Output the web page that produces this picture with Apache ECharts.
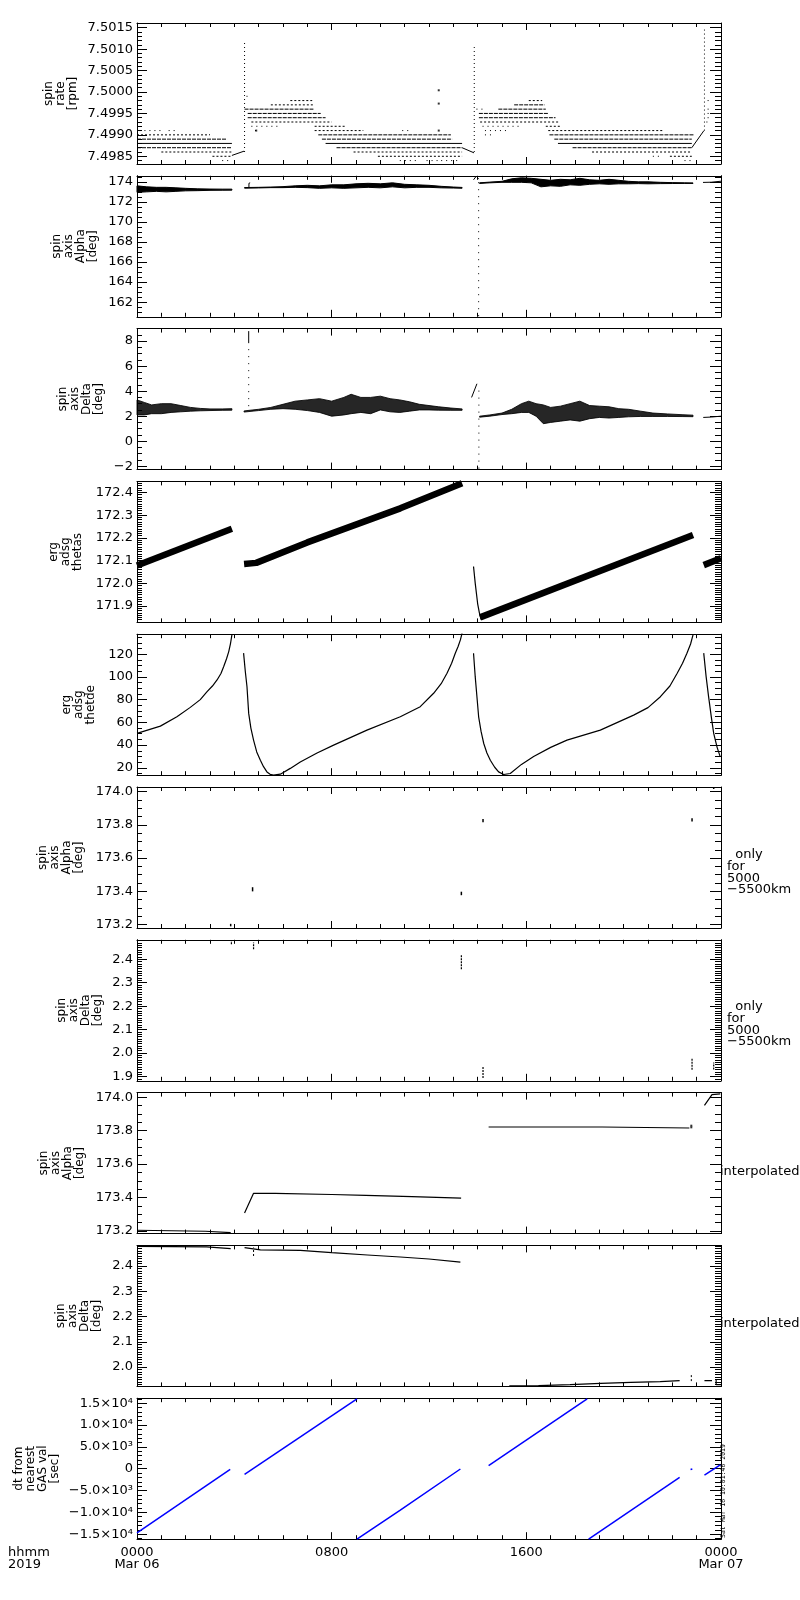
<!DOCTYPE html>
<html lang="en">
<head>
<meta charset="UTF-8">
<title>spin axis summary</title>
<script src="https://cdn.jsdelivr.net/npm/echarts@6/dist/echarts.min.js"></script>
<style>body{margin:0;background:#fff;}</style>
</head>
<body>
<div id="main" style="width:800px;height:1600px;"></div>
<script type="text/javascript">
// time is in hours from 0000 Mar 06
var hourTicks = [0, 8, 16, 24];
var hourLabels = ['0000\nMar 06', '0800', '1600', '0000\nMar 07'];

// y tick labels per panel
var rateTicks = [7.4985, 7.499, 7.4995, 7.5, 7.5005, 7.501, 7.5015];
var alphaTicks = [162, 164, 166, 168, 170, 172, 174];
var deltaTicks = [-2, 0, 2, 4, 6, 8];
var thetasTicks = [171.9, 172.0, 172.1, 172.2, 172.3, 172.4];
var thetdeTicks = [20, 40, 60, 80, 100, 120];
var alphaNarrowTicks = [173.2, 173.4, 173.6, 173.8, 174.0];
var deltaNarrowTicks = [1.9, 2.0, 2.1, 2.2, 2.3, 2.4];
var deltaInterpTicks = [2.0, 2.1, 2.2, 2.3, 2.4];
var dtTicks = [-15000, -10000, -5000, 0, 5000, 10000, 15000];
var dtTickLabels = ['\u22121.5\u00d710\u2074', '\u22121.0\u00d710\u2074', '\u22125.0\u00d710\u00b3', '0', '5.0\u00d710\u00b3', '1.0\u00d710\u2074', '1.5\u00d710\u2074'];

// panel 1: spin rate, quantised rows [t0, t1, rpm]
var rateSolid = [[0, 3.9, 7.4988], [7.75, 13.36, 7.4988], [17.3, 22.8, 7.4988]];
var rateDashed = [
  [0, 3.7, 7.4989], [0, 3.9, 7.4987],
  [4.42, 7.25, 7.4996], [4.55, 7.55, 7.4995], [4.55, 7.75, 7.4994],
  [7.45, 12.9, 7.4990], [7.6, 12.95, 7.4989], [8.2, 13.36, 7.4987],
  [15.5, 16.75, 7.4997], [14.85, 16.8, 7.4996], [14.05, 16.9, 7.4995], [14.05, 17.2, 7.4994],
  [16.95, 22.9, 7.4990], [17.15, 22.8, 7.4989], [17.9, 22.8, 7.4987]
];
var rateDotted = [
  [0, 3.0, 7.4990], [1.0, 3.9, 7.4986], [3.1, 3.9, 7.4985],
  [6.3, 7.2, 7.4998], [5.5, 7.25, 7.4997], [4.7, 8.0, 7.4993], [7.3, 8.6, 7.4992], [7.3, 9.3, 7.4991],
  [8.9, 13.36, 7.4986], [9.9, 13.36, 7.4985],
  [16.1, 16.65, 7.4998], [14.1, 17.35, 7.4993], [16.8, 17.4, 7.4992], [16.9, 21.6, 7.4991],
  [18.7, 22.8, 7.4986], [21.9, 22.8, 7.4985]
];
var rateSparse = [
  [0.1, 1.1, 7.4991], [1.3, 1.6, 7.4991], [3.5, 3.8, 7.4984],
  [4.5, 4.7, 7.4999], [4.7, 5.9, 7.4992], [4.85, 5.0, 7.4991],
  [10.9, 11.2, 7.4991], [10.8, 11.6, 7.4984], [11.9, 12.4, 7.4984], [12.5, 13.3, 7.4984],
  [13.95, 14.2, 7.4996], [14.2, 15.7, 7.4992], [14.3, 15.2, 7.4991], [14.3, 14.6, 7.4990],
  [21.2, 21.6, 7.4985], [22.5, 22.8, 7.4984],
  [23.45, 23.65, 7.4998], [23.45, 23.65, 7.4996], [23.45, 23.65, 7.4995], [23.45, 23.65, 7.4994], [23.4, 23.6, 7.4993]
];
var rateRamps = [
  [[3.9, 7.49852], [4.4, 7.49862]],
  [[13.36, 7.4987], [13.85, 7.49858]],
  [[22.8, 7.4987], [23.3, 7.4991]]
];
var rateSpikes = [[4.42, 7.4986, 7.5012], [13.86, 7.4986, 7.5011], [23.32, 7.4991, 7.50152]];
var rateOdd = [[12.4, 7.50004], [12.4, 7.49973], [12.4, 7.4991], [4.9, 7.4991]];

// panel 2: spin axis alpha, envelopes [t, low, high]
var alphaBand1 = [[0, 172.95, 173.6], [0.4, 173.0, 173.5], [0.8, 173.05, 173.45], [1.2, 173.0, 173.45], [1.6, 173.05, 173.4],
  [2.0, 173.1, 173.35], [2.5, 173.12, 173.3], [3.0, 173.15, 173.28], [3.5, 173.16, 173.27], [3.9, 173.17, 173.27]];
var alphaBand2 = [[4.42, 173.37, 173.43], [5.0, 173.39, 173.45], [5.5, 173.42, 173.48], [6.0, 173.42, 173.52], [6.5, 173.45, 173.6],
  [7.0, 173.42, 173.65], [7.5, 173.35, 173.6], [8.0, 173.4, 173.7], [8.5, 173.35, 173.7], [9.0, 173.4, 173.8],
  [9.5, 173.45, 173.85], [10.0, 173.4, 173.8], [10.5, 173.5, 173.9], [11.0, 173.4, 173.75], [11.5, 173.45, 173.7],
  [12.0, 173.45, 173.65], [12.5, 173.4, 173.55], [13.0, 173.38, 173.48], [13.36, 173.36, 173.44]];
var alphaBand3 = [[14.08, 173.84, 173.9], [14.5, 173.9, 173.97], [15.0, 173.95, 174.05], [15.4, 173.95, 174.3], [15.8, 173.95, 174.4],
  [16.2, 173.9, 174.35], [16.6, 173.5, 174.25], [17.0, 173.6, 174.15], [17.4, 173.55, 174.25], [17.8, 173.7, 174.2],
  [18.2, 173.65, 174.35], [18.6, 173.75, 174.2], [19.0, 173.8, 174.15], [19.4, 173.75, 174.25], [19.8, 173.8, 174.15],
  [20.2, 173.8, 174.05], [20.6, 173.82, 174.0], [21.0, 173.8, 174.0], [21.5, 173.82, 173.95], [22.0, 173.83, 173.92],
  [22.5, 173.84, 173.9], [22.85, 173.84, 173.89]];
var alphaLines = [
  [[23.26, 173.94], [23.6, 173.96], [23.65, 174.04], [24, 174.06]],
  [[4.6, 173.4], [4.6, 173.85], [4.65, 173.9]],
  [[13.83, 174.2], [13.95, 174.58], [14.04, 174.27]]
];
var alphaSpikes = [[14.04, 160.6, 174.27]];

// panel 3: spin axis delta, envelopes [t, low, high]
var deltaBand1 = [[0, 2.1, 3.3], [0.3, 2.1, 3.1], [0.6, 2.2, 2.9], [1.0, 2.2, 3.0], [1.4, 2.3, 3.0], [1.8, 2.35, 2.85],
  [2.2, 2.4, 2.7], [2.6, 2.43, 2.62], [3.0, 2.45, 2.58], [3.5, 2.47, 2.58], [3.9, 2.48, 2.6]];
var deltaBand2 = [[4.4, 2.33, 2.42], [5.0, 2.45, 2.55], [5.5, 2.55, 2.7], [6.0, 2.6, 2.95], [6.5, 2.55, 3.2], [7.0, 2.45, 3.3],
  [7.5, 2.3, 3.4], [8.0, 2.0, 3.2], [8.5, 2.1, 3.5], [8.8, 2.2, 3.75], [9.2, 2.3, 3.5], [9.6, 2.2, 3.5], [10.0, 2.5, 3.6],
  [10.4, 2.35, 3.4], [10.8, 2.3, 3.3], [11.2, 2.4, 3.15], [11.6, 2.5, 2.95], [12.0, 2.5, 2.85], [12.4, 2.48, 2.75],
  [12.9, 2.47, 2.65], [13.36, 2.47, 2.58]];
var deltaBand3 = [[14.08, 1.92, 2.0], [14.5, 2.0, 2.1], [15.0, 2.13, 2.25], [15.4, 2.2, 2.55], [15.8, 2.3, 3.0], [16.1, 2.3, 3.2],
  [16.4, 2.0, 3.0], [16.7, 1.4, 2.9], [17.0, 1.5, 2.7], [17.4, 1.6, 2.8], [17.8, 1.7, 3.0], [18.2, 1.6, 3.2], [18.6, 1.8, 2.85],
  [19.0, 1.9, 2.8], [19.4, 1.85, 2.75], [19.8, 1.9, 2.6], [20.2, 1.95, 2.55], [20.7, 1.98, 2.4], [21.2, 1.98, 2.25],
  [21.8, 1.98, 2.18], [22.4, 1.97, 2.12], [22.85, 1.96, 2.08]];
var deltaLines = [
  [[23.27, 1.9], [23.6, 1.93], [23.65, 1.98], [24, 2.0]],
  [[13.75, 3.5], [13.8, 3.63], [13.97, 4.59]]
];
var deltaSpikeSolid = [[4.59, 7.85, 8.8]];
var deltaSpikeDots = [[4.59, 2.8, 7.85], [14.05, -2.19, 4.4]];

// panel 4: erg adsg thetas
var thetasThick = [
  [[0, 172.078], [3.9, 172.24]],
  [[4.4, 172.085], [4.9, 172.09], [7.0, 172.18], [10.82, 172.33], [13.36, 172.44]],
  [[14.1, 171.85], [22.85, 172.213]],
  [[23.29, 172.08], [24, 172.11]]
];
var thetasDrop = [[13.83, 172.074], [13.9, 172.0], [14.0, 171.91], [14.07, 171.87], [14.14, 171.84]];

// panel 5: erg adsg thetde
var thetdeSegs = [
  [[0, 50.3], [0.96, 56.7], [1.64, 64.9], [2.19, 73.2], [2.6, 80], [2.88, 87], [3.1, 92], [3.29, 97.3], [3.45, 103],
   [3.56, 109], [3.68, 116], [3.77, 122.3], [3.84, 129], [3.9, 137]],
  [[4.38, 120.9], [4.45, 105], [4.52, 91.4], [4.59, 67.9], [4.68, 55], [4.79, 44.4], [4.92, 34], [5.07, 26.7], [5.2, 21],
   [5.34, 16.4], [5.47, 14.3], [5.61, 13.6], [5.89, 14.4], [6.3, 19.5], [6.71, 25.2], [7.4, 33], [8.08, 40], [9.45, 53.2],
   [10.82, 64.9], [11.64, 73.8], [12.19, 85.6], [12.5, 94], [12.74, 103.2], [12.93, 112], [13.08, 120.9], [13.2, 127],
   [13.29, 132.6], [13.36, 138.5]],
  [[13.83, 120.9], [13.9, 100], [13.97, 82.6], [14.04, 64.9], [14.14, 52], [14.25, 41.4], [14.38, 33], [14.52, 26.7],
   [14.7, 20.5], [14.86, 16.4], [15.07, 14.1], [15.34, 15], [15.8, 23], [16.3, 30], [17.0, 38], [17.67, 44.4],
   [19.04, 53.2], [20.41, 66.4], [21.0, 73], [21.51, 82.6], [21.9, 92], [22.2, 103.2], [22.42, 112], [22.6, 120.9],
   [22.75, 129], [22.85, 137]],
  [[23.29, 120.9], [23.39, 100], [23.49, 82.6], [23.6, 65], [23.7, 50.3], [23.84, 38], [23.97, 29.6]]
];

// panels 6 and 7: values only for 5000-5500 km, marks [t, low, high]
var onlyAlphaMarks = [[3.85, 173.19, 173.205], [4.75, 173.40, 173.425], [13.33, 173.377, 173.398],
  [14.22, 173.815, 173.835], [22.81, 173.82, 173.84], [23.7, 174.015, 174.027]];
var onlyDeltaMarks = [[3.88, 2.464, 2.478], [4.79, 2.443, 2.472], [13.33, 2.357, 2.421],
  [14.22, 1.893, 1.943], [22.81, 1.929, 1.979], [23.7, 1.93, 1.96]];

// panel 8: interpolated alpha
var interpAlphaSegs = [
  [[0, 173.204], [2.81, 173.198], [2.82, 173.19], [3.85, 173.19]],
  [[4.42, 173.308], [4.79, 173.425], [5.68, 173.425], [5.7, 173.418], [8.0, 173.418], [8.02, 173.413], [9.4, 173.413],
   [9.42, 173.405], [11.3, 173.405], [11.32, 173.40], [13.32, 173.396]],
  [[14.45, 173.822], [19.11, 173.822], [19.12, 173.816], [22.7, 173.816]],
  [[23.32, 173.952], [23.63, 174.016], [23.97, 174.02]]
];
var interpAlphaDots = [[22.78, 173.82], [22.78, 173.83]];

// panel 9: interpolated delta
var interpDeltaSegs = [
  [[0, 2.478], [2.86, 2.476], [2.88, 2.47], [3.85, 2.469]],
  [[4.42, 2.473], [5.07, 2.464], [6.71, 2.462], [8.0, 2.453], [9.47, 2.444], [10.82, 2.436], [12.0, 2.428], [13.29, 2.416]],
  [[15.3, 1.925], [16.5, 1.926], [16.5, 1.930], [17.8, 1.930], [17.8, 1.935], [19.05, 1.935], [19.05, 1.939],
   [20.3, 1.939], [20.3, 1.942], [21.5, 1.942], [21.5, 1.946], [22.3, 1.946]],
  [[23.32, 1.946], [23.63, 1.946]],
  [[23.8, 1.95], [23.8, 1.93], [24, 1.93]]
];
var interpDeltaMarks = [[4.79, 2.44, 2.474], [22.78, 1.944, 1.97]];

// panel 10: dt from nearest GAS value [sec]
var dtSegs = [
  [[0, -14690], [3.83, -138]],
  [[4.42, -1290], [9.04, 16000]],
  [[9.04, -16130], [10.82, -9480], [13.29, -69]],
  [[14.45, 690], [18.5, 16000]],
  [[18.56, -16130], [22.3, -1980]],
  [[22.75, -160], [22.82, -60]],
  [[23.32, -1450], [23.97, 850]]
];

var FONT = 'DejaVu Sans';
var panels = [
  {title: 'spin\nrate\n[rpm]', min: 7.49832, max: 7.50161, ticks: rateTicks, minor: 0.0001, dec: 4, gap: 58},
  {title: 'spin\naxis\nAlpha\n[deg]', min: 160.54, max: 174.6, ticks: alphaTicks, minor: 0.5, dec: 0, gap: 38},
  {title: 'spin\naxis\nDelta\n[deg]', min: -2.27, max: 9.0, ticks: deltaTicks, minor: 0.5, dec: 0, gap: 32},
  {title: 'erg\nadsg\nthetas', min: 171.828, max: 172.4485, ticks: thetasTicks, minor: 0.01, dec: 1, gap: 53},
  {title: 'erg\nadsg\nthetde', min: 13.5, max: 137.6, ticks: thetdeTicks, minor: 5, dec: 0, gap: 40},
  {title: 'spin\naxis\nAlpha\n[deg]', min: 173.18, max: 174.027, ticks: alphaNarrowTicks, minor: 0.05, dec: 1, gap: 52},
  {title: 'spin\naxis\nDelta\n[deg]', min: 1.8815, max: 2.483, ticks: deltaNarrowTicks, minor: 0.01, dec: 1, gap: 33},
  {title: 'spin\naxis\nAlpha\n[deg]', min: 173.184, max: 174.028, ticks: alphaNarrowTicks, minor: 0.05, dec: 1, gap: 51},
  {title: 'spin\naxis\nDelta\n[deg]', min: 1.923, max: 2.482, ticks: deltaInterpTicks, minor: 0.01, dec: 1, gap: 34},
  {title: 'dt from\nnearest\nGAS val\n[sec]', min: -16148, max: 16148, ticks: dtTicks, minor: 1000, labels: dtTickLabels, gap: 76}
];

var black = {color: '#000', width: 1};
var grids = [], xAxes = [], yAxes = [], series = [];

function minorValues(p) {
  var out = [], k = Math.ceil(p.min / p.minor - 1e-9), v;
  while ((v = +(k * p.minor).toFixed(6)) <= p.max + 1e-9) { out.push(v); k++; }
  return out;
}

function xAxis(i, pos, interval, len, major) {
  var lab = major && pos === 'bottom' && i === 9;
  return {
    type: 'value', gridIndex: i, position: pos, min: 0, max: 24, interval: interval,
    axisLine: {show: major, onZero: false, lineStyle: black},
    axisTick: {show: true, inside: true, length: len, lineStyle: black},
    axisLabel: {show: lab, color: '#000', fontFamily: FONT, fontSize: 13, lineHeight: 12, margin: 7,
      formatter: function (v) { var k = hourTicks.indexOf(v); return k < 0 ? '' : hourLabels[k]; }},
    splitLine: {show: false}
  };
}

function yAxis(i, p, pos, values, len, major, labelled) {
  var ax = {
    type: 'value', gridIndex: i, position: pos, min: p.min, max: p.max,
    axisLine: {show: major, onZero: false, lineStyle: black},
    axisTick: {show: true, inside: true, length: len, customValues: values, lineStyle: black},
    axisLabel: {show: false},
    splitLine: {show: false}
  };
  if (labelled) {
    ax.axisLabel = {
      show: true, customValues: p.ticks, color: '#000', fontFamily: FONT, fontSize: 13, margin: 4,
      formatter: function (v) {
        if (p.labels) return p.labels[p.ticks.indexOf(v)];
        return v.toFixed(p.dec).replace('-', '\u2212');
      }
    };
    ax.name = p.title;
    ax.nameLocation = 'middle';
    ax.nameRotate = 90;
    ax.nameGap = p.gap;
    ax.nameMoveOverlap = false;
    ax.nameTextStyle = {color: '#000', fontFamily: FONT, fontSize: 12, lineHeight: 12};
  }
  return ax;
}

function lineSeries(i, pts, color, width) {
  series.push({type: 'line', xAxisIndex: i * 4, yAxisIndex: i * 4, data: pts, symbol: 'none', showSymbol: false,
    lineStyle: {color: color || '#000', width: width || 1}, silent: true, animation: false});
}

function spanSeries(i, arr, dash, vertical, width) {
  series.push({
    type: 'custom', coordinateSystem: 'cartesian2d', xAxisIndex: i * 4, yAxisIndex: i * 4, data: arr, silent: true, animation: false,
    renderItem: function (params, api) {
      var a, b;
      if (vertical) {
        a = api.coord([api.value(0), api.value(1)]);
        b = api.coord([api.value(0), api.value(2)]);
      } else {
        a = api.coord([api.value(0), api.value(2)]);
        b = api.coord([api.value(1), api.value(2)]);
      }
      return {type: 'line', shape: {x1: a[0], y1: a[1], x2: b[0], y2: b[1]},
        style: {stroke: '#000', lineWidth: width || 1, lineDash: dash || null}};
    }
  });
}

function bandSeries(i, arr, opacity) {
  series.push({
    type: 'custom', coordinateSystem: 'cartesian2d', xAxisIndex: i * 4, yAxisIndex: i * 4, data: arr, silent: true, animation: false,
    renderItem: function (params, api) {
      if (params.dataIndex !== 0) return null;
      var pts = [], k;
      for (k = 0; k < arr.length; k++) pts.push(api.coord([arr[k][0], arr[k][2]]));
      for (k = arr.length - 1; k >= 0; k--) pts.push(api.coord([arr[k][0], arr[k][1]]));
      return {type: 'polygon', shape: {points: pts},
        style: {fill: '#000', stroke: '#000', lineWidth: 1, opacity: opacity || 1}};
    }
  });
}

function dotSeries(i, pts) {
  series.push({type: 'scatter', xAxisIndex: i * 4, yAxisIndex: i * 4, data: pts, symbol: 'rect', symbolSize: 2,
    itemStyle: {color: '#000'}, silent: true, animation: false});
}

for (var i = 0; i < panels.length; i++) {
  var p = panels[i];
  grids.push({left: 137, right: 79, top: 23 + i * 152.8, height: 141, containLabel: false});
  xAxes.push(xAxis(i, 'bottom', 8, 7, true), xAxis(i, 'bottom', 1, 4, false),
             xAxis(i, 'top', 8, 7, true), xAxis(i, 'top', 1, 4, false));
  var minors = minorValues(p);
  yAxes.push(yAxis(i, p, 'left', p.ticks, 10, true, true), yAxis(i, p, 'left', minors, 5, false, false),
             yAxis(i, p, 'right', p.ticks, 11, true, false), yAxis(i, p, 'right', minors, 6, false, false));
}

// panel 1
spanSeries(0, rateSolid, null, false);
spanSeries(0, rateDashed, [4, 1], false);
spanSeries(0, rateDotted, [2, 2], false);
spanSeries(0, rateSparse, [1, 4], false);
rateRamps.forEach(function (r) { lineSeries(0, r); });
spanSeries(0, rateSpikes, [1, 3], true);
dotSeries(0, rateOdd);
// panel 2
bandSeries(1, alphaBand1); bandSeries(1, alphaBand2); bandSeries(1, alphaBand3);
alphaLines.forEach(function (r) { lineSeries(1, r); });
spanSeries(1, alphaSpikes, [1, 6], true);
// panel 3
bandSeries(2, deltaBand1, 0.85); bandSeries(2, deltaBand2, 0.85); bandSeries(2, deltaBand3, 0.85);
deltaLines.forEach(function (r) { lineSeries(2, r); });
spanSeries(2, deltaSpikeSolid, null, true);
spanSeries(2, deltaSpikeDots, [1, 6], true);
// panel 4
thetasThick.forEach(function (r) { lineSeries(3, r, '#000', 6.5); });
lineSeries(3, thetasDrop, '#000', 1.2);
// panel 5
thetdeSegs.forEach(function (r) { lineSeries(4, r, '#000', 1.2); });
// panels 6, 7
spanSeries(5, onlyAlphaMarks, null, true, 1.5);
spanSeries(6, onlyDeltaMarks, [2, 1], true, 1.2);
// panel 8
interpAlphaSegs.forEach(function (r) { lineSeries(7, r, '#000', 1.2); });
dotSeries(7, interpAlphaDots);
// panel 9
interpDeltaSegs.forEach(function (r) { lineSeries(8, r, '#000', 1.2); });
spanSeries(8, interpDeltaMarks, [2, 2], true);
// panel 10
dtSegs.forEach(function (r) { lineSeries(9, r, '#0000ff', 1.5); });

function note(x, y, text, va) {
  return {type: 'text', x: x, y: y, silent: true,
    style: {text: text, fill: '#000', fontFamily: FONT, fontSize: 13, lineHeight: 11.7, verticalAlign: va || 'top'}};
}

var myChart = echarts.init(document.getElementById('main'));
myChart.setOption({
  backgroundColor: '#fff',
  animation: false,
  textStyle: {fontFamily: FONT, color: '#000'},
  grid: grids,
  xAxis: xAxes,
  yAxis: yAxes,
  series: series,
  graphic: [
    {type: 'text', x: 8, y: 1547, silent: true, style: {text: 'hhmm\n2019', fill: '#000', fontFamily: FONT, fontSize: 13, lineHeight: 12}},
    note(727, 849, '  only\nfor\n5000\n\u22125500km'),
    note(727, 1001, '  only\nfor\n5000\n\u22125500km'),
    note(720, 1172, 'interpolated', 'middle'),
    note(720, 1324, 'interpolated', 'middle'),
    {type: 'text', x: 727, y: 1538, rotation: Math.PI / 2, silent: true,
      style: {text: 'Sat Mar 16 10:01:46 2019', fill: '#000', fontFamily: 'DejaVu Sans Mono', fontSize: 6.5, verticalAlign: 'bottom'}}
  ]
});
</script>
</body>
</html>
